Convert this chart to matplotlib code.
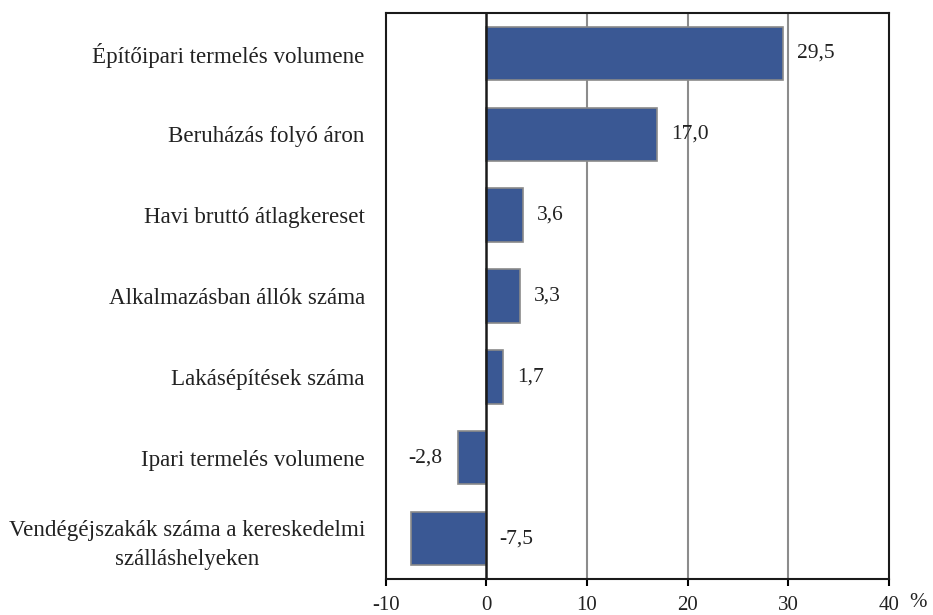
import matplotlib.pyplot as plt

categories = [
    "Építőipari termelés volumene",
    "Beruházás folyó áron",
    "Havi bruttó átlagkereset",
    "Alkalmazásban állók száma",
    "Lakásépítések száma",
    "Ipari termelés volumene",
    "Vendégéjszakák száma a kereskedelmi\nszálláshelyeken",
]
values = [29.5, 17.0, 3.6, 3.3, 1.7, -2.8, -7.5]
xticks = [-10, 0, 10, 20, 30, 40]

plt.rcParams['font.family'] = ['Liberation Serif', 'DejaVu Serif']

fig = plt.figure(figsize=(9.33, 6.15), dpi=100)
ax = fig.add_axes([0.4133, 0.0585, 0.5395, 0.9204])

pos = list(range(len(categories)))
ax.barh(pos, values, height=0.66, color='#3A5894', edgecolor='#8a8a8a',
        linewidth=1.2, zorder=3)

# value labels (placement follows the original)
for i, v in enumerate(values):
    txt = f"{v:.1f}".replace('.', ',')
    if v >= 0:
        ax.annotate(txt, (v, i), xytext=(10, 0), textcoords='offset points',
                    ha='left', va='center', fontsize=15.5, color='#222222', zorder=4)
    elif v > -5:
        ax.annotate(txt, (v, i), xytext=(-11, 0), textcoords='offset points',
                    ha='right', va='center', fontsize=15.5, color='#222222', zorder=4)
    else:
        ax.annotate(txt, (0, i), xytext=(9, 0), textcoords='offset points',
                    ha='left', va='center', fontsize=15.5, color='#222222', zorder=4)

ax.set_xlim(-10, 40)
ax.set_ylim(len(categories) - 0.5, -0.5)
ax.set_xticks(xticks)
ax.set_xticklabels([str(t) for t in xticks], fontsize=15, color='#222222')
ax.set_yticks(pos)
ax.set_yticklabels(categories, fontsize=16.6, color='#222222',
                   multialignment='center', linespacing=1.5)
ax.tick_params(axis='y', length=0, pad=15)
ax.tick_params(axis='x', direction='out', length=5, width=1.5, pad=7)

for t in xticks[2:-1]:
    ax.axvline(t, color='#8c8c8c', linewidth=1.5, zorder=1)
ax.axvline(0, color='#1a1a1a', linewidth=1.8, zorder=4)

for s in ax.spines.values():
    s.set_color('#1a1a1a')
    s.set_linewidth(1.5)

ax.annotate('%', xy=(40, 6.5), xytext=(21, -17), textcoords='offset points',
            ha='center', va='center', fontsize=15, color='#222222', annotation_clip=False)

fig.savefig('out.png', dpi=100)
